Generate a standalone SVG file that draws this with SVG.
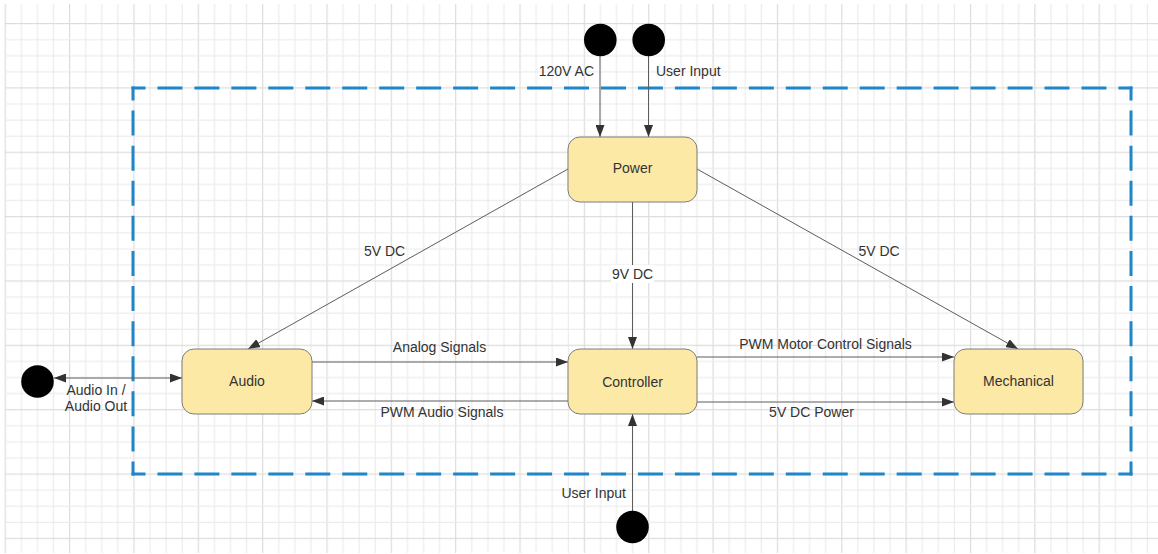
<svg xmlns="http://www.w3.org/2000/svg" width="1158" height="554" viewBox="0 0 1158 554">
  <defs>
    <style>
      .node rect { fill: #fde9a6; stroke: #7d7d7d; stroke-width: 1; }
      .term { fill: #000; }
      .lbl { font-family: "Liberation Sans", Arial, sans-serif; font-size: 14px; fill: #333; }
      .mid { text-anchor: middle; }
      .end { text-anchor: end; }
      .conn { fill: none; stroke: #5c5c5c; stroke-width: 1; }
      .arrow { marker-end: url(#arrow); }
      .both { marker-start: url(#arrow); marker-end: url(#arrow); }
      .frame { stroke: #1f86c7; stroke-width: 3; stroke-linecap: square; fill: none; }
      .fh { stroke-dasharray: 22 14.96; stroke-dashoffset: 11; }
      .fv { stroke-dasharray: 22 13.09; stroke-dashoffset: 11; }
    </style>
    <marker id="arrow" viewBox="0 0 12 9" refX="12" refY="4.5" markerWidth="12" markerHeight="9" markerUnits="userSpaceOnUse" orient="auto-start-reverse">
      <path d="M0,0 L12,4.5 L0,9 z" fill="#333"/>
    </marker>
    <!-- background grid: minor lines every 16.09px, heavier line every fourth -->
    <pattern id="gridV" x="4.65" y="0" width="64.35" height="10" patternUnits="userSpaceOnUse">
      <rect x="0" y="0" width="1.2" height="10" fill="#dcdcdc"/>
      <rect x="16.09" y="0" width="1.2" height="10" fill="#ececec"/>
      <rect x="32.18" y="0" width="1.2" height="10" fill="#ececec"/>
      <rect x="48.26" y="0" width="1.2" height="10" fill="#ececec"/>
    </pattern>
    <pattern id="gridH" x="0" y="-41.35" width="10" height="64.35" patternUnits="userSpaceOnUse">
      <rect x="0" y="0" width="10" height="1.2" fill="#dcdcdc"/>
      <rect x="0" y="16.09" width="10" height="1.2" fill="#ececec"/>
      <rect x="0" y="32.18" width="10" height="1.2" fill="#ececec"/>
      <rect x="0" y="48.26" width="10" height="1.2" fill="#ececec"/>
    </pattern>
  </defs>

  <rect width="1158" height="554" fill="#fff"/>
  <g id="grid">
    <rect x="4" y="4" width="1154" height="549" fill="url(#gridV)"/>
    <rect x="5" y="10" width="1153" height="543" fill="url(#gridH)"/>
  </g>

  <!-- system boundary -->
  <g id="boundary" class="frame">
    <line class="fh" x1="133" y1="88" x2="1131" y2="88"/>
    <line class="fh" x1="133" y1="474" x2="1131" y2="474"/>
    <line class="fv" x1="133" y1="88" x2="133" y2="474"/>
    <line class="fv" x1="1131" y1="88" x2="1131" y2="474"/>
  </g>

  <g id="connectors">
    <g id="c-ac">
      <path class="conn arrow" d="M600,56 V137"/>
      <text class="lbl end" x="594" y="75.5">120V AC</text>
    </g>
    <g id="c-user-top">
      <path class="conn arrow" d="M648.5,56 V137"/>
      <text class="lbl" x="656" y="75.5">User Input</text>
    </g>
    <g id="c-power-audio">
      <path class="conn arrow" d="M568,169 L248,349"/>
      <text class="lbl mid" x="384.5" y="256">5V DC</text>
    </g>
    <g id="c-power-controller">
      <path class="conn arrow" d="M632.5,202 V349"/>
      <rect x="611" y="265" width="43" height="18" fill="#fff"/>
      <text class="lbl mid" x="632.5" y="279">9V DC</text>
    </g>
    <g id="c-power-mech">
      <path class="conn arrow" d="M697,169 L1018,349"/>
      <text class="lbl mid" x="879" y="256">5V DC</text>
    </g>
    <g id="c-audio-io">
      <path class="conn both" d="M54,378 H182"/>
      <text class="lbl mid" x="96" y="394.5">Audio In /</text>
      <text class="lbl mid" x="96" y="411">Audio Out</text>
    </g>
    <g id="c-analog">
      <path class="conn arrow" d="M312,362 H568"/>
      <text class="lbl mid" x="439.5" y="352">Analog Signals</text>
    </g>
    <g id="c-pwm-audio">
      <path class="conn arrow" d="M568,401 H312"/>
      <text class="lbl mid" x="442" y="417">PWM Audio Signals</text>
    </g>
    <g id="c-pwm-motor">
      <path class="conn arrow" d="M697,357 H954"/>
      <text class="lbl mid" x="825.5" y="348.5">PWM Motor Control Signals</text>
    </g>
    <g id="c-5v-power">
      <path class="conn arrow" d="M697,402 H954"/>
      <text class="lbl mid" x="811.5" y="417">5V DC Power</text>
    </g>
    <g id="c-user-bottom">
      <path class="conn arrow" d="M632.5,511 V414"/>
      <text class="lbl end" x="626" y="497.5">User Input</text>
    </g>
  </g>

  <!-- external terminals -->
  <circle id="t-ac" class="term" cx="600.3" cy="40" r="16.3"/>
  <circle id="t-user-top" class="term" cx="648.7" cy="40" r="16.3"/>
  <circle id="t-audio-io" class="term" cx="37.5" cy="381.5" r="16.3"/>
  <circle id="t-user-bottom" class="term" cx="632.5" cy="527" r="16.3"/>

  <g id="power" class="node">
    <rect x="568" y="137" width="129" height="65" rx="12"/>
    <text class="lbl mid" x="632.5" y="172.5">Power</text>
  </g>
  <g id="audio" class="node">
    <rect x="182" y="349" width="130" height="65" rx="12"/>
    <text class="lbl mid" x="247" y="386">Audio</text>
  </g>
  <g id="controller" class="node">
    <rect x="568" y="349" width="129" height="65" rx="12"/>
    <text class="lbl mid" x="632.5" y="386.5">Controller</text>
  </g>
  <g id="mechanical" class="node">
    <rect x="954" y="349" width="129" height="65" rx="12"/>
    <text class="lbl mid" x="1018.5" y="385.5">Mechanical</text>
  </g>
</svg>
